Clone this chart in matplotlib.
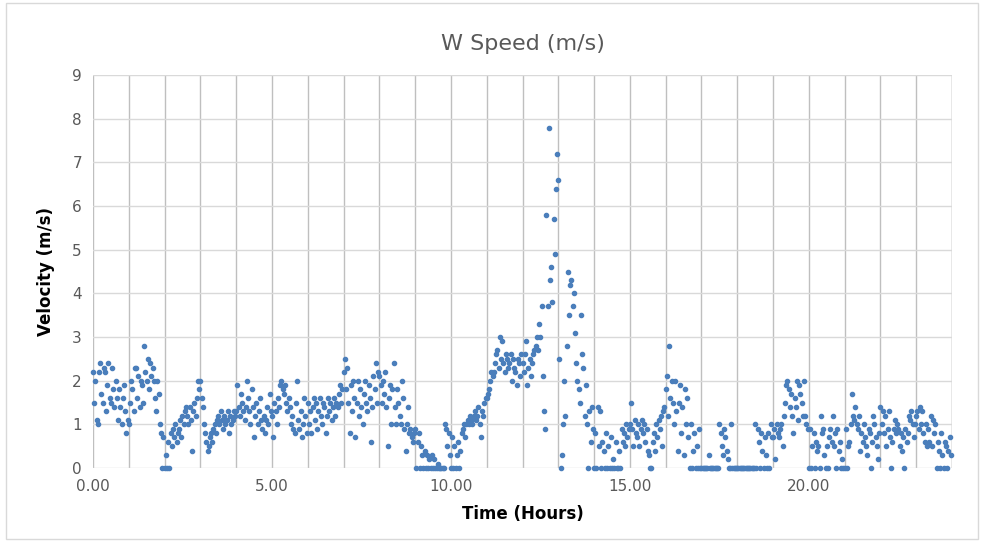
import numpy as np
import matplotlib
matplotlib.use("Agg")
import matplotlib.pyplot as plt
from matplotlib.patches import Rectangle
from matplotlib.ticker import MultipleLocator

plt.rcParams['font.family'] = ['Liberation Sans Narrow', 'DejaVu Sans']

# wind speed logged every 2 minutes, one list per hour of the day
h00 = [2.2, 1.5, 2.0, 1.1, 1.0, 2.2, 2.4, 1.7, 1.5, 2.3, 2.2, 1.3, 1.9, 2.4, 1.6,
       1.5, 2.3, 1.8, 1.4, 2.0, 1.6, 1.1, 1.8, 1.4, 1.0, 1.6, 1.9, 1.3, 0.8, 1.1]
h01 = [1.0, 1.5, 2.0, 1.8, 1.3, 2.3, 2.3, 1.6, 2.1, 1.4, 2.0, 1.9, 1.5, 2.8, 2.2,
       2.0, 2.5, 1.8, 2.4, 2.1, 2.3, 2.0, 1.6, 1.3, 2.0, 1.7, 1.0, 0.8, 0.0, 0.7]
h02 = [0.0, 0.3, 0.0, 0.6, 0.0, 0.8, 0.5, 0.9, 0.7, 1.0, 0.6, 0.8, 0.9, 1.1, 0.7,
       1.2, 1.0, 1.3, 1.4, 1.2, 1.0, 1.4, 1.1, 0.4, 1.3, 1.5, 1.2, 1.6, 2.0, 1.8]
h03 = [2.0, 1.6, 1.4, 1.0, 0.8, 0.6, 0.4, 0.5, 0.7, 0.8, 0.6, 0.9, 1.0, 0.8, 1.1,
       1.2, 1.0, 1.3, 1.1, 0.9, 1.2, 1.0, 1.1, 1.3, 0.8, 1.2, 1.0, 1.1, 1.3, 1.2]
h04 = [1.3, 1.9, 1.4, 1.2, 1.7, 1.5, 1.3, 1.1, 1.4, 2.0, 1.6, 1.3, 1.0, 1.8, 1.4,
       0.7, 1.2, 1.5, 1.0, 1.3, 1.6, 1.1, 0.9, 1.2, 0.8, 1.1, 1.4, 1.0, 1.7, 1.3]
h05 = [1.2, 0.7, 1.5, 1.3, 1.0, 1.6, 1.4, 1.9, 2.0, 1.8, 1.7, 1.9, 1.5, 1.3, 1.6,
       1.4, 1.0, 1.2, 0.9, 0.8, 1.5, 2.0, 1.1, 0.9, 1.3, 0.7, 1.0, 1.6, 1.2, 0.8]
h06 = [1.5, 1.0, 1.3, 0.8, 1.4, 1.6, 1.1, 1.5, 0.9, 1.3, 1.6, 1.2, 1.0, 1.5, 1.4,
       0.8, 1.2, 1.6, 1.3, 1.5, 1.1, 1.4, 1.6, 1.2, 1.5, 1.4, 1.7, 1.9, 1.5, 1.8]
h07 = [2.2, 2.5, 1.8, 2.3, 1.5, 0.8, 1.9, 1.3, 2.0, 1.6, 0.7, 1.5, 2.0, 1.2, 1.8,
       1.4, 1.0, 1.7, 2.0, 1.5, 1.3, 1.9, 1.6, 0.6, 1.4, 2.1, 1.8, 2.4, 1.5, 2.2]
h08 = [2.1, 1.9, 1.5, 2.0, 1.7, 2.2, 1.4, 0.5, 1.6, 1.9, 1.0, 1.8, 2.4, 1.4, 1.0,
       1.8, 1.5, 1.2, 1.0, 2.0, 1.6, 0.9, 0.4, 1.0, 1.4, 0.8, 0.9, 0.7, 0.6, 0.8]
h09 = [0.9, 0.0, 0.6, 0.8, 0.0, 0.5, 0.3, 0.0, 0.4, 0.0, 0.3, 0.0, 0.2, 0.0, 0.3,
       0.0, 0.2, 0.0, 0.0, 0.1, 0.0, 0.0, 0.0, 0.0, 0.0, 1.0, 0.9, 0.5, 0.8, 0.3]
h10 = [0.0, 0.7, 0.0, 0.5, 0.0, 0.3, 0.6, 0.0, 0.4, 0.8, 0.9, 1.0, 0.7, 1.0, 1.1,
       1.0, 1.2, 1.1, 1.0, 1.2, 1.3, 1.1, 1.2, 1.4, 1.0, 0.7, 1.3, 1.2, 1.5, 1.6]
h11 = [1.6, 1.7, 1.8, 2.0, 2.2, 2.1, 2.2, 2.4, 2.6, 2.7, 2.3, 3.0, 2.5, 2.9, 2.4,
       2.2, 2.6, 2.5, 2.3, 2.4, 2.6, 2.0, 2.5, 2.3, 2.2, 1.9, 2.5, 2.4, 2.1, 2.6]
h12 = [2.4, 2.2, 2.6, 2.9, 1.9, 2.3, 2.5, 2.1, 2.4, 2.6, 2.7, 2.8, 3.0, 2.7, 3.3,
       3.0, 3.7, 2.1, 1.3, 0.9, 5.8, 3.7, 7.8, 4.3, 4.6, 3.8, 5.7, 4.9, 6.4, 7.2]
h13 = [6.6, 2.5, 0.0, 0.3, 1.0, 2.0, 1.2, 2.8, 4.5, 3.5, 4.2, 4.3, 3.7, 4.0, 3.1,
       2.4, 2.0, 1.8, 1.5, 3.5, 2.6, 2.3, 1.2, 1.9, 1.0, 0.0, 1.3, 0.6, 1.4, 0.9]
h14 = [0.0, 0.8, 0.0, 1.4, 0.5, 1.3, 0.0, 0.6, 0.4, 0.0, 0.8, 0.0, 0.5, 0.0, 0.7,
       0.0, 0.2, 0.0, 0.6, 0.0, 0.0, 0.4, 0.0, 0.9, 0.6, 0.8, 0.5, 1.0, 0.7, 0.9]
h15 = [1.0, 1.5, 0.9, 0.5, 1.1, 0.8, 0.7, 1.0, 0.5, 0.9, 1.1, 0.8, 1.0, 0.6, 0.9,
       0.4, 0.3, 0.0, 0.0, 0.6, 0.8, 0.4, 1.0, 0.7, 1.1, 0.9, 1.2, 0.5, 1.3, 1.4]
h16 = [1.8, 2.1, 1.2, 2.8, 1.6, 2.0, 1.5, 1.0, 2.0, 1.3, 0.4, 1.5, 1.9, 0.8, 1.4,
       0.3, 1.8, 1.0, 1.6, 0.7, 0.0, 1.0, 0.0, 0.4, 0.8, 0.0, 0.5, 0.0, 0.9, 0.0]
h17 = [0.0, 0.0, 0.0, 0.0, 0.0, 0.0, 0.3, 0.0, 0.0, 0.0, 0.0, 0.0, 0.0, 0.0, 0.0,
       1.0, 0.8, 0.5, 0.3, 0.9, 0.7, 0.4, 0.2, 0.0, 0.0, 1.0, 0.0, 0.0, 0.0, 0.0]
h18 = [0.0, 0.0, 0.0, 0.0, 0.0, 0.0, 0.0, 0.0, 0.0, 0.0, 0.0, 0.0, 0.0, 0.0, 0.0,
       1.0, 0.0, 0.9, 0.6, 0.0, 0.8, 0.4, 0.0, 0.7, 0.3, 0.0, 0.8, 0.0, 1.0, 0.7]
h19 = [0.7, 0.9, 0.2, 1.0, 0.8, 0.7, 0.9, 1.0, 0.5, 1.2, 1.5, 1.9, 2.0, 1.8, 1.4,
       1.7, 1.2, 0.8, 1.6, 1.4, 2.0, 1.1, 1.9, 1.7, 1.5, 1.2, 2.0, 1.2, 1.0, 0.9]
h20 = [0.0, 0.9, 0.0, 0.5, 0.8, 0.0, 0.6, 0.4, 0.5, 0.0, 1.2, 0.8, 0.9, 0.3, 0.0,
       0.5, 0.0, 0.7, 0.9, 0.6, 1.2, 0.5, 0.8, 0.0, 0.9, 0.4, 0.6, 0.0, 0.2, 0.0]
h21 = [0.0, 0.9, 0.0, 0.5, 0.6, 1.0, 1.7, 1.2, 1.1, 1.4, 1.0, 0.9, 1.2, 0.4, 0.8,
       0.6, 1.0, 0.7, 0.5, 0.3, 0.9, 0.8, 0.0, 0.6, 1.2, 1.0, 0.7, 0.5, 0.2, 0.8]
h22 = [1.4, 1.0, 1.3, 0.8, 1.2, 0.5, 0.9, 1.3, 0.7, 0.0, 0.6, 0.9, 1.1, 0.8, 1.0,
       0.9, 0.5, 0.8, 0.4, 0.7, 0.0, 0.9, 0.6, 0.8, 1.2, 1.1, 1.3, 1.0, 0.7, 1.0]
h23 = [1.2, 1.3, 0.9, 1.4, 1.0, 1.3, 0.8, 0.6, 1.0, 0.5, 0.9, 0.6, 1.2, 0.5, 1.1,
       0.8, 1.0, 0.0, 0.6, 0.4, 0.0, 0.8, 0.3, 0.0, 0.6, 0.5, 0.0, 0.4, 0.7, 0.3]

hours = [h00, h01, h02, h03, h04, h05, h06, h07, h08, h09, h10, h11,
         h12, h13, h14, h15, h16, h17, h18, h19, h20, h21, h22, h23]
speed = np.concatenate(hours)
time_h = np.arange(len(speed)) * 2 / 60.0

x_ticks = [0, 5, 10, 15, 20]

fig = plt.figure(figsize=(9.84, 5.41), dpi=100)
ax = fig.add_axes([0.0945, 0.135, 0.873, 0.726])

ax.plot(time_h, speed, linestyle='none', marker='o', ms=3.0,
        color='#4a7ebb', mec='#4a7ebb', zorder=3, clip_on=False)

ax.set_xlim(0, 24)
ax.set_ylim(0, 9)
ax.set_xticks(x_ticks)
ax.set_xticklabels(['%.2f' % t for t in x_ticks])
ax.xaxis.set_minor_locator(MultipleLocator(1))
ax.yaxis.set_major_locator(MultipleLocator(1))

ax.grid(axis='y', which='major', color='#d9d9d9', lw=1.0, zorder=0)
ax.grid(axis='x', which='both', color='#bfbfbf', lw=1.0, zorder=0)
ax.tick_params(axis='both', which='both', length=0, labelsize=11,
               labelcolor='#595959', pad=8)
for s in ax.spines.values():
    s.set_visible(False)
ax.axvline(24, color='#bfbfbf', lw=1.0, zorder=0)

ax.set_title('W Speed (m/s)', fontsize=16, color='#595959', pad=18)
ax.set_xlabel('Time (Hours)', fontsize=12, fontweight='bold', labelpad=8)
ax.set_ylabel('Velocity (m/s)', fontsize=12, fontweight='bold', labelpad=12)

fig.patches.append(Rectangle((0.006, 0.004), 0.988, 0.99, transform=fig.transFigure,
                             fill=False, edgecolor='#d9d9d9', lw=1.0))

fig.savefig('out.png', dpi=100)
